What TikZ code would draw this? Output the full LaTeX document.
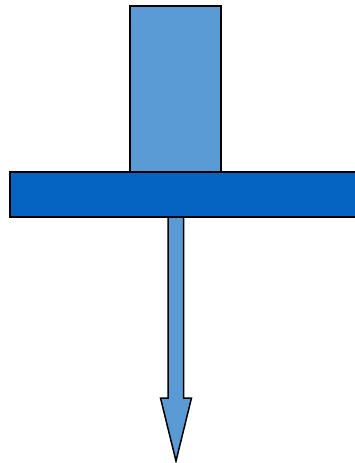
\documentclass[tikz,border=0pt]{standalone}
\usetikzlibrary{positioning}
\definecolor{postblue}{HTML}{5B9BD5}
\definecolor{barblue}{HTML}{0563C1}
\tikzset{
  block/.style={rectangle,draw=black,line width=1.5pt,inner sep=0pt,outer sep=0pt},
  outline/.style={draw=black,line width=1.5pt,line join=miter},
}
\begin{document}
\begin{tikzpicture}[x=1pt,y=-1pt]
  \useasboundingbox (0,0) rectangle (355,463);
  % upright post
  \node[block,fill=postblue,anchor=south west,minimum width=91pt,minimum height=166pt] (post) at (130,172) {};
  % downward arrow below the bar
  \coordinate (tip) at (176,461);
  \draw[outline,fill=postblue] (168,214) -- (168,398) -- (160.5,398) -- (tip) -- (191.5,398) -- (183.5,398) -- (183.5,214) -- cycle;
  % horizontal bar
  \node[block,fill=barblue,anchor=north west,minimum width=350pt,minimum height=45pt] (bar) at (10,172) {};
\end{tikzpicture}
\end{document}
